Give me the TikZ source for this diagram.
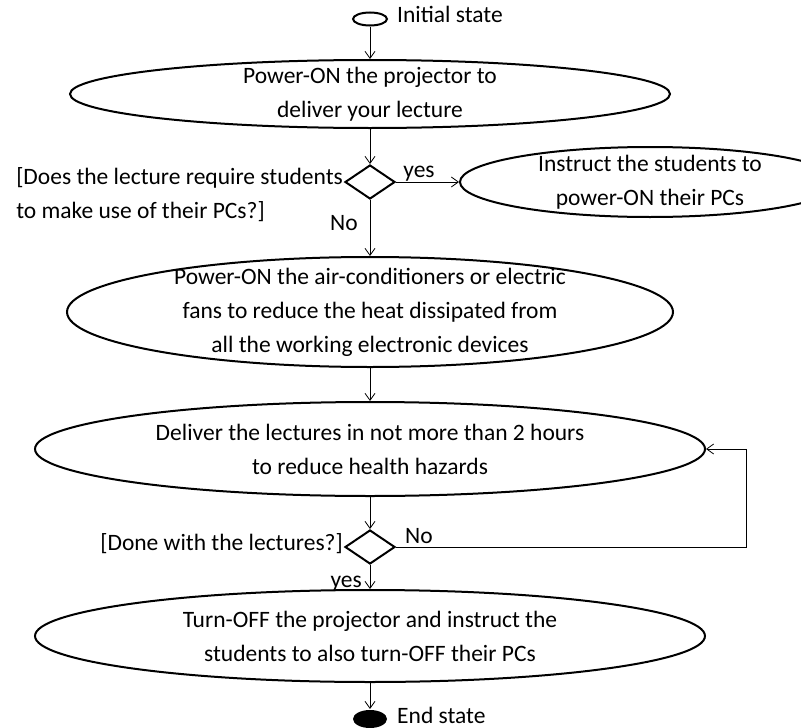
\documentclass[tikz,border=0pt]{standalone}
\usepackage{fontspec}
\setmainfont{Carlito}
\usepackage{tikz}
\usetikzlibrary{shapes.geometric,arrows.meta}

\begin{document}
\begin{tikzpicture}[x=1pt,y=1pt]
\tikzstyle{every node}+=[inner sep=0pt, font=\fontsize{23.5}{34}\selectfont]
\tikzstyle{state}=[draw, ellipse, line width=2pt, inner sep=-20pt, align=center]
\tikzstyle{terminal}=[ellipse, line width=2pt, minimum width=34pt]
\tikzstyle{choice}=[draw, diamond, line width=2pt, minimum width=50pt, minimum height=34pt]
\tikzstyle{flow}=[-{Straight Barb[length=7pt,width=10pt]}, line width=0.8pt]
\useasboundingbox (0,0) rectangle (801,-728);
\node [terminal, draw, minimum height=13pt] (init) at (370,-19) {};
\node [anchor=base west] (initlbl) at (397,-23) {Initial state};
\node [state, minimum width=600pt, minimum height=68pt] (proj) at (370,-94) {Power-ON the projector to\\deliver your lecture};
\node [choice] (needpc) at (370,-182) {};
\node [anchor=east, align=left] (needpclbl) at (343,-195) {[Does the lecture require students\\to make use of their PCs?]};
\node [state, minimum width=380pt, minimum height=70pt] (instr) at (650,-182) {Instruct the students to\\power-ON their PCs};
\node [state, minimum width=606pt, minimum height=110pt] (cool) at (370,-312) {Power-ON the air-conditioners or electric\\fans to reduce the heat dissipated from\\all the working electronic devices};
\node [state, minimum width=670pt, minimum height=94pt] (lecture) at (370,-449) {Deliver the lectures in not more than 2 hours\\to reduce health hazards};
\node [choice] (done) at (370,-547) {};
\node [anchor=base east] (donelbl) at (343,-550) {[Done with the lectures?]};
\node [state, minimum width=670pt, minimum height=92pt] (off) at (370,-636) {Turn-OFF the projector and instruct the\\students to also turn-OFF their PCs};
\node [terminal, fill, minimum height=18pt] (final) at (370,-719) {};
\node [anchor=base west] (finallbl) at (397,-723) {End state};
% connectors
\draw [flow] (init.south) -- (proj.north);
\draw [flow] (proj.south) -- (needpc.north);
\draw [flow] (needpc.east) -- (instr.west);
\node [anchor=base] (yes1) at (419,-177) {yes};
\draw [flow] (needpc.south) -- (cool.north);
\node [anchor=base east] (no1) at (358,-230) {No};
\draw [flow] (cool.south) -- (lecture.north);
\draw [flow] (lecture.south) -- (done.north);
\draw [flow] (done.east) -- ++(350,0) |- (lecture.east);
\node [anchor=base west] (no2) at (405,-543) {No};
\draw [flow] (done.south) -- (off.north);
\node [anchor=base east] (yes2) at (362,-587) {yes};
\draw [flow] (off.south) -- (final.north);
\end{tikzpicture}
\end{document}
